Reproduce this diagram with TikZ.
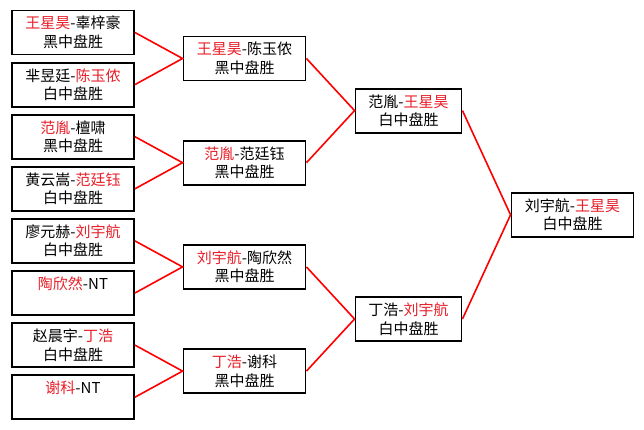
\documentclass[tikz,border=0pt]{standalone}
\usepackage{fontspec}
\setmainfont{Noto Sans CJK SC}
\usepackage{xcolor}
\usepackage{tikz}
\definecolor{WinRed}{HTML}{E8202A}
\definecolor{LinkRed}{HTML}{FF0000}
\newcommand{\victor}[1]{\textcolor{WinRed}{#1}}

\begin{document}
\begin{tikzpicture}[x=1pt,y=-1pt,font=\fontsize{15}{18.5}\selectfont,
  matchbox/.style={draw=black,fill=white,line width=1.9pt,minimum width=122pt,minimum height=44pt,inner sep=0pt,align=center},
  semibox/.style={matchbox,minimum width=106pt},
  link/.style={draw=LinkRed,line width=1.6pt}]
  \useasboundingbox[fill=white] (0,0) rectangle (644,429);

  % first round
  \node[matchbox] (r1a) at (73,32.5)  {\victor{王星昊}-辜梓豪\\黑中盘胜};
  \node[matchbox] (r1b) at (73,84.6)  {芈昱廷-\victor{陈玉侬}\\白中盘胜};
  \node[matchbox] (r1c) at (73,136.7) {\victor{范胤}-檀啸\\黑中盘胜};
  \node[matchbox] (r1d) at (73,188.8) {黄云嵩-\victor{范廷钰}\\白中盘胜};
  \node[matchbox] (r1e) at (73,240.9) {廖元赫-\victor{刘宇航}\\白中盘胜};
  \node[matchbox] (r1f) at (73,293)   {\victor{陶欣然}-NT\\\phantom{白中盘胜}};
  \node[matchbox] (r1g) at (73,345.1) {赵晨宇-\victor{丁浩}\\白中盘胜};
  \node[matchbox] (r1h) at (73,397.2) {\victor{谢科}-NT\\\phantom{白中盘胜}};

  % second round
  \node[matchbox] (r2a) at (244.5,58.5)  {\victor{王星昊}-陈玉侬\\黑中盘胜};
  \node[matchbox] (r2b) at (244.5,162.7) {\victor{范胤}-范廷钰\\黑中盘胜};
  \node[matchbox] (r2c) at (244.5,266.9) {\victor{刘宇航}-陶欣然\\黑中盘胜};
  \node[matchbox] (r2d) at (244.5,371.1) {\victor{丁浩}-谢科\\黑中盘胜};

  % semifinals and final
  \node[semibox] (r3a) at (408.5,110.6) {范胤-\victor{王星昊}\\白中盘胜};
  \node[semibox] (r3b) at (408.5,319)   {丁浩-\victor{刘宇航}\\白中盘胜};
  \node[matchbox] (fin) at (572.5,214.8) {刘宇航-\victor{王星昊}\\白中盘胜};

  % red connectors
  \draw[link] (r1a.east) -- (r2a.west) -- (r1b.east);
  \draw[link] (r1c.east) -- (r2b.west) -- (r1d.east);
  \draw[link] (r1e.east) -- (r2c.west) -- (r1f.east);
  \draw[link] (r1g.east) -- (r2d.west) -- (r1h.east);
  \draw[link] (r2a.east) -- (r3a.west) -- (r2b.east);
  \draw[link] (r2c.east) -- (r3b.west) -- (r2d.east);
  \draw[link] (r3a.east) -- (fin.west) -- (r3b.east);
\end{tikzpicture}
\end{document}
